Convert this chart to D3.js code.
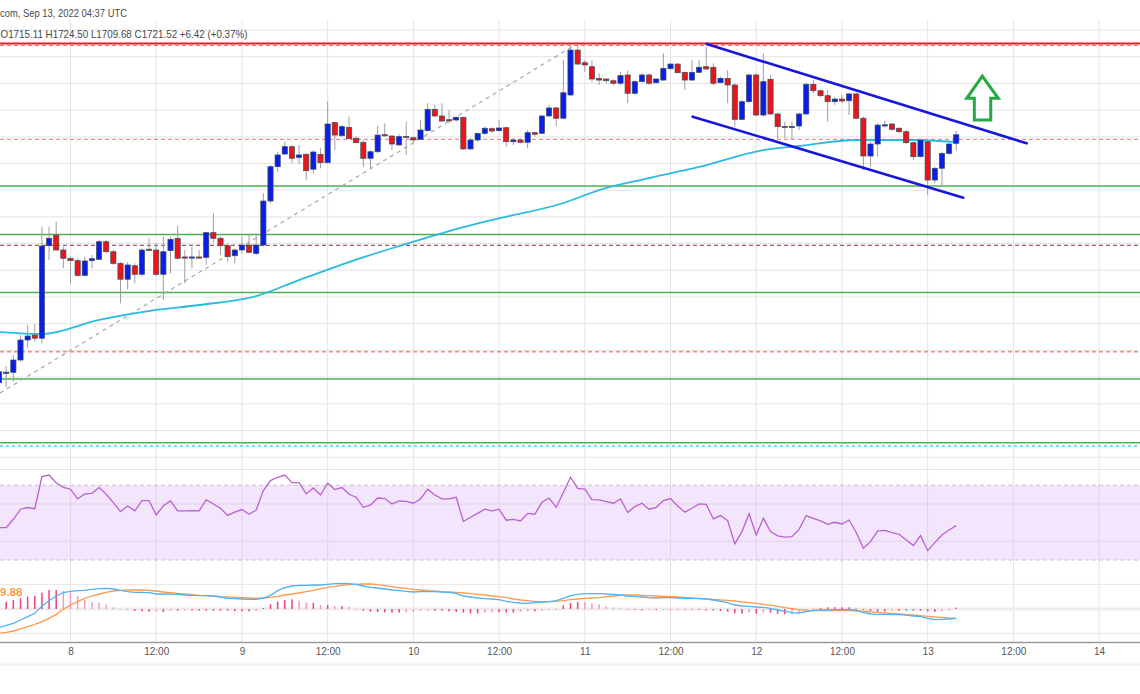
<!DOCTYPE html>
<html><head><meta charset="utf-8">
<script src="https://cdn.jsdelivr.net/npm/d3@7"></script>
<style>body{margin:0;background:#fff;overflow:hidden}svg{display:block}</style>
</head><body><svg id="c" width="1140" height="694"></svg>
<script>
// ---------------- DATA ----------------
const firstCandle = "2022-09-07T14:00:00Z"; // hourly candles
const open  = [1535.8,1543.3,1543.6,1552.8,1567.8,1571.5,1569.1,1638.4,1646.4,1635.2,
1629.0,1627.2,1616.2,1627.2,1628.2,1641.4,1633.9,1625.2,1613.3,1623.4,
1617.0,1635.8,1635.2,1617.0,1634.7,1644.0,1630.0,1629.7,1630.0,1629.7,
1648.2,1644.0,1638.4,1630.9,1635.2,1638.9,1632.7,1638.9,1671.9,1697.6,
1707.1,1712.6,1704.6,1706.9,1695.7,1706.9,1700.6,1730.6,1720.8,1727.1,
1718.9,1715.9,1703.9,1708.8,1721.6,1720.6,1713.9,1720.3,1719.3,1718.1,
1724.6,1740.6,1735.6,1732.8,1732.6,1734.6,1710.9,1717.6,1722.6,1726.1,
1724.6,1726.8,1716.3,1717.6,1715.9,1723.1,1722.6,1735.6,1741.6,1733.9,
1751.3,1785.0,1775.5,1772.5,1763.8,1763.3,1762.0,1760.1,1766.3,1752.6,
1761.3,1766.3,1760.5,1762.5,1771.0,1774.5,1768.3,1762.5,1768.3,1772.5,
1772.1,1760.5,1763.8,1758.8,1733.1,1746.3,1766.3,1736.3,1763.1,1737.1,
1727.8,1727.1,1728.1,1737.1,1759.3,1754.5,1750.8,1746.3,1748.3,1747.0,
1752.1,1733.9,1705.6,1714.6,1728.6,1729.6,1726.4,1723.8,1715.6,1705.1,
1716.3,1687.6,1696.4,1707.6,1715.11];
const high  = [1548.3,1548.3,1556.5,1571.5,1579.0,1579.8,1652.7,1652.7,1656.4,1637.7,
1630.2,1629.0,1630.2,1631.5,1642.7,1642.7,1635.2,1626.4,1626.4,1625.2,
1636.5,1644.0,1640.2,1645.2,1645.2,1653.2,1635.2,1637.7,1635.2,1648.9,
1663.1,1645.2,1640.2,1636.5,1645.2,1646.4,1646.4,1677.7,1698.9,1708.8,
1716.3,1713.9,1713.9,1707.6,1710.1,1711.4,1746.3,1731.3,1728.8,1735.1,
1720.1,1717.6,1710.1,1728.1,1730.1,1721.3,1721.9,1731.3,1720.1,1732.6,
1745.1,1743.8,1745.1,1740.1,1735.6,1735.1,1718.9,1723.1,1727.6,1727.1,
1732.6,1727.6,1718.9,1718.9,1725.1,1723.8,1736.3,1743.8,1742.6,1777.5,
1788.8,1788.8,1777.5,1777.5,1767.6,1763.8,1763.1,1768.8,1769.5,1762.5,
1767.6,1767.6,1763.8,1782.5,1775.5,1775.1,1768.8,1777.5,1777.5,1787.5,
1775.1,1765.0,1770.0,1760.1,1747.6,1767.6,1767.6,1782.5,1766.3,1738.1,
1731.3,1731.3,1738.1,1760.5,1762.5,1755.6,1755.1,1749.6,1751.3,1753.0,
1753.0,1735.1,1716.3,1730.1,1732.1,1730.1,1727.1,1725.1,1716.3,1718.1,
1717.6,1697.6,1708.8,1715.6,1724.5];
const low   = [1532.6,1532.6,1536.5,1551.5,1562.0,1566.5,1565.3,1627.7,1635.0,1621.5,
1610.3,1615.2,1615.5,1621.5,1627.7,1632.7,1624.0,1595.3,1605.8,1610.3,
1615.2,1635.0,1615.7,1597.7,1617.7,1628.2,1610.3,1621.5,1629.0,1624.0,
1640.7,1631.5,1626.4,1625.2,1632.7,1632.7,1631.5,1637.7,1670.2,1693.9,
1706.4,1700.1,1699.6,1687.6,1692.7,1696.4,1700.1,1710.1,1720.1,1718.1,
1715.1,1697.6,1696.4,1707.6,1720.1,1710.1,1713.1,1706.4,1716.3,1717.6,
1723.8,1734.6,1731.3,1730.1,1731.3,1710.1,1710.1,1716.3,1721.3,1723.1,
1723.8,1712.6,1713.9,1715.1,1711.4,1720.1,1722.1,1734.6,1728.1,1733.1,
1750.5,1773.8,1768.8,1761.3,1758.8,1760.1,1758.8,1758.8,1745.1,1751.3,
1760.5,1758.8,1759.6,1762.0,1770.0,1767.6,1755.1,1762.0,1767.6,1770.0,
1758.8,1760.1,1745.1,1727.6,1732.6,1745.1,1735.6,1735.1,1736.3,1718.9,
1718.9,1717.6,1725.1,1736.3,1752.6,1749.6,1731.3,1743.8,1745.1,1736.3,
1733.1,1695.1,1697.6,1705.1,1727.1,1724.6,1722.6,1714.6,1702.6,1704.6,
1676.4,1685.2,1682.6,1706.4,1709.68];
const close = [1544.0,1543.7,1552.8,1567.8,1570.8,1569.1,1638.2,1644.0,1635.2,1629.0,
1627.2,1616.2,1627.0,1628.7,1641.4,1633.9,1625.2,1613.3,1624.0,1617.0,
1635.2,1635.6,1617.0,1633.9,1643.2,1629.0,1629.7,1630.0,1629.6,1648.2,
1644.0,1638.4,1630.2,1635.2,1638.9,1633.5,1638.9,1671.9,1697.6,1706.4,
1712.6,1703.9,1706.4,1694.6,1708.6,1700.6,1729.6,1721.3,1727.6,1718.6,
1715.6,1703.9,1708.8,1721.3,1721.2,1714.6,1720.1,1719.9,1717.6,1725.1,
1740.6,1735.6,1731.8,1732.3,1734.6,1710.9,1717.6,1722.6,1726.4,1724.3,
1726.6,1716.3,1717.6,1715.9,1723.1,1721.9,1735.6,1741.6,1733.9,1753.0,
1785.0,1774.5,1773.8,1763.3,1762.5,1762.0,1760.1,1765.8,1752.6,1761.3,
1766.3,1760.1,1763.3,1771.3,1774.5,1768.0,1762.5,1768.3,1772.1,1770.8,
1760.1,1763.8,1758.8,1733.1,1746.3,1766.3,1736.3,1761.3,1737.1,1727.6,
1727.4,1727.8,1737.1,1759.3,1754.5,1750.8,1746.3,1748.3,1746.8,1752.1,
1733.9,1705.6,1714.6,1728.8,1729.0,1725.6,1723.8,1715.6,1705.1,1717.6,
1687.6,1696.4,1707.6,1714.6,1721.52];

// moving average (read at sample hours after Sep 8 00:00)
const smaHours  = [-10,-4,4,12,18,26,32,39,46,53,59,69,74,81,88,97,102,110,118,124];
const smaValues = [1573.8,1572.3,1582.8,1590.3,1594.0,1600.7,1612.7,1626.2,1638.2,1649.4,
1657.7,1670.4,1680.1,1689.1,1697.4,1710.1,1713.1,1717.6,1717.6,1716.1];

const rsi = [47.3,47.3,51.8,57.2,58.1,57.5,74.7,75.5,71.4,68.9,
67.9,62.7,65.4,65.7,68.8,65.2,60.7,55.9,58.9,56.3,
61.8,61.8,54.1,59.1,61.6,56.3,56.3,56.4,56.3,62.2,
60.0,57.7,53.9,55.6,57.0,54.5,56.8,67.2,72.5,74.3,
75.5,71.4,71.4,65.4,68.6,64.8,71.1,67.7,68.8,65.2,
63.6,58.2,59.5,63.2,62.9,60.0,61.6,61.4,60.4,62.7,
67.9,64.8,62.7,62.7,63.6,50.6,52.9,55.0,57.2,56.3,
57.2,51.3,51.8,50.9,55.0,54.5,60.9,63.2,58.2,66.1,
74.3,68.4,67.9,62.3,62.2,61.3,60.4,62.7,55.4,58.6,
60.4,57.2,58.2,61.8,62.9,58.9,55.6,57.7,60.0,59.8,
52.0,53.8,51.1,38.6,45.2,54.7,43.4,52.3,45.2,42.9,
42.3,42.5,46.4,53.8,52.3,50.9,49.1,50.2,49.3,51.4,
44.7,36.3,39.8,45.6,45.9,44.7,43.8,40.7,37.7,43.1,
35.0,39.3,43.4,46.1,48.4];

const macd = [-55,-49,-43,-33,-23,-13,9,25,39,49,
53,55,56,59,61,62,60,56,52,50,
50,49,45,45,45,44,42,41,40,40,
39,36,32,31,30,29,29,33,41,55,
64,69,71,71,72,72,74,76,77,76,
74,69,65,63,60,57,55,53,51,52,
53,52,51,50,47,39,36,33,31,30,
28,23,20,18,17,19,20,22,25,32,
40,44,46,46,46,45,44,42,39,37,
36,34,33,34,34,33,32,32,31,30,
27,23,19,12,9,8,6,5,2,-3,
-7,-11,-12,-8,-4,-3,-3,-2,-2,-2,
-3,-11,-15,-16,-16,-17,-17,-18,-21,-23,
-28,-32,-31,-30,-28];
const signal = [-73,-70,-66,-60,-53,-46,-38,-28,-16,-1,
12,22,32,39,45,50,54,56,57,57,
57,56,54,51,49,47,45,43,41,40,
39,37,36,35,34,33,32,33,35,38,
42,45,48,52,56,61,65,68,71,73,
74,75,75,73,70,67,64,62,59,57,
55,54,52,51,50,48,46,44,42,39,
37,34,30,27,25,23,22,22,23,25,
28,30,32,33,34,37,39,41,42,42,
41,40,39,38,37,36,35,33,32,30,
29,27,26,24,21,19,17,14,11,8,
4,1,-2,-4,-5,-5,-5,-5,-5,-5,
-6,-7,-9,-10,-12,-13,-15,-17,-18,-20,
-22,-24,-25,-27,-28];
const hist = [20,22,27,32,37,39,49,57,57,54,
49,39,27,21,19,14,5,0.5,-2,-6,
-7,-8,-7,-9,-5,-5,-4,-4,-5,-5,
-5,-5,-5,-7,-7,-7,-5,3,14,22,
27,29,25,19,19,12,12,9,9,7,
0.5,-5,-8,-9,-10,-11,-11,-10,-9,-6,
-5,-5,-5,-7,-9,-11,-13,-13,-11,-10,
-10,-11,-11,-9,-7,-7,-5,-3,0.5,11,
18,21,20,17,14,8,5,2,-2,-3,
-4,-3,-3,-2,-2,-2,-2,-2,-3,-4,
-4,-6,-8,-13,-14,-11,-14,-11,-11,-14,
-16,-15,-11,-3,0.5,3,5,5,5,5,
3,-3,-6,-8,-8,-5,-5,-5,-5,-5,
-7,-9,-7,-4,4];

const xTickLabels = ["8","12:00","9","12:00","10","12:00","11","12:00","12","12:00","13","12:00","14"];
const greenLevels = [1683.1, 1646.8, 1603.4, 1538.6, 1490.8];
const redDashedLevels = [1718.0, 1559.0];
const brownDashedLevel = 1638.6;
const resistanceLevel = 1789.9;
const blueDottedLevel = 1488.4;
// annotations: [hoursAfterSep8, price]
const channelUpper = [[89.07,1789.5],[133.86,1715.1]];
const channelLower = [[87.1,1735.1],[124.99,1674.4]];
const trendLine = [[-9.87,1528.1],[70.63,1788.8]];
const arrowShape = [[127.65,1765.5],[129.89,1748.8],[128.83,1748.8],[128.83,1732.6],[126.53,1732.6],[126.53,1748.8],[125.47,1748.8]];
const headerLine1 = "com, Sep 13, 2022 04:37 UTC";
const headerLine2 = "O1715.11  H1724.50  L1709.68  C1721.52  +6.42 (+0.37%)";
const macdLabel = "9.88";

// ---------------- CHECK ----------------
[open,high,low,close,rsi,macd,signal,hist].forEach((a,i)=>{ if(a.length!==135) throw new Error("len "+i+" "+a.length); });

// ---------------- SCALES ----------------
const svg = d3.select("#c");
const W = 1140;
const HOUR = 3600e3;
const t0 = new Date(firstCandle).getTime();
const sep8 = Date.UTC(2022,8,8);
const x = d3.scaleUtc().domain([new Date(sep8), new Date(Date.UTC(2022,8,14))]).range([70.5, 1099.1]);
const xi = i => x(new Date(t0 + i*HOUR));
const xh = h => x(new Date(sep8 + h*HOUR));
const y = d3.scaleLinear().domain([1720, 1780]).range([136.8, 56.7]);
const yR = d3.scaleLinear().domain([30, 70]).range([560, 485.3]);
const yM = d3.scaleLinear().domain([-60, 60]).range([629, 589]);

// ---------------- GRID ----------------
const grid = svg.append("g");
const vTicks = d3.range(0, 13).map(k => new Date(sep8 + k*12*HOUR));
grid.selectAll(".vg").data(vTicks).join("line")
  .attr("x1", d=>x(d)).attr("x2", d=>x(d)).attr("y1", 20).attr("y2", 642)
  .attr("stroke", "#e4e4e4").attr("stroke-width", 1);
const priceGrid = d3.range(1480, 1801, 20).filter(p => y(p) > 20 && y(p) < 466);
grid.selectAll(".hg").data(priceGrid).join("line")
  .attr("x1", 0).attr("x2", W).attr("y1", d=>y(d)).attr("y2", d=>y(d))
  .attr("stroke", "#e4e4e4").attr("stroke-width", 1);
grid.append("line").attr("x1",0).attr("x2",W).attr("y1",469.5).attr("y2",469.5).attr("stroke","#e4e4e4");

// ---------------- RSI PANEL ----------------
const rsiG = svg.append("g");
rsiG.append("rect").attr("x",0).attr("width",W).attr("y",yR(70)).attr("height",yR(30)-yR(70)).attr("fill","#f3e5fc");
[60,40].forEach(v=> rsiG.append("line").attr("x1",0).attr("x2",W).attr("y1",yR(v)).attr("y2",yR(v)).attr("stroke","#e0d4e8"));
vTicks.forEach(d=> rsiG.append("line").attr("x1",x(d)).attr("x2",x(d)).attr("y1",yR(70)).attr("y2",yR(30)).attr("stroke","#e2d2ea"));
[70,30].forEach(v=> rsiG.append("line").attr("x1",0).attr("x2",W).attr("y1",yR(v)).attr("y2",yR(v))
  .attr("stroke","#c8bfd0").attr("stroke-dasharray","4,3"));
rsiG.append("path").datum(rsi).attr("fill","none").attr("stroke","#b962cf").attr("stroke-width",1.3)
  .attr("d", d3.line().x((d,i)=>xi(i)).y(d=>yR(d)));

// ---------------- MACD PANEL ----------------
const mG = svg.append("g");
[584.3, 633.3].forEach(v=> mG.append("line").attr("x1",0).attr("x2",W).attr("y1",v).attr("y2",v).attr("stroke","#e4e4e4"));
mG.append("line").attr("x1",0).attr("x2",W).attr("y1",yM(0)).attr("y2",yM(0)).attr("stroke","#ececec").attr("stroke-width",3);
mG.selectAll(".hb").data(hist).join("rect")
  .attr("x",(d,i)=>xi(i)-0.75).attr("width",1.5)
  .attr("y",d=>Math.min(yM(d),yM(0))).attr("height",d=>Math.max(0.6,Math.abs(yM(d)-yM(0))))
  .attr("fill",(d,i)=>{ const prev = i>0?hist[i-1]:d; return (d>=0 ? (d>=prev ? "#f0407f":"#f59abb") : (d<=prev ? "#f0407f":"#f59abb")); });
mG.append("path").datum(signal).attr("fill","none").attr("stroke","#ff9a4d").attr("stroke-width",1.3)
  .attr("d", d3.line().x((d,i)=>xi(i)).y(d=>yM(d)));
mG.append("path").datum(macd).attr("fill","none").attr("stroke","#4fb3f6").attr("stroke-width",1.3)
  .attr("d", d3.line().x((d,i)=>xi(i)).y(d=>yM(d)));
mG.append("text").attr("x",0).attr("y",596).text(macdLabel)
  .attr("fill","#ff9a4d").attr("font-family","Liberation Sans, Arial, sans-serif").attr("font-size",11.5).attr("font-weight","bold");

// ---------------- LEVELS ----------------
const lv = svg.append("g");
lv.selectAll(".gl").data(greenLevels).join("line")
  .attr("x1",0).attr("x2",W).attr("y1",d=>y(d)).attr("y2",d=>y(d)).attr("stroke","#4cb050").attr("stroke-width",1.6);
lv.selectAll(".rl").data(redDashedLevels).join("line")
  .attr("x1",0).attr("x2",W).attr("y1",d=>y(d)).attr("y2",d=>y(d)).attr("stroke","#f28b8b").attr("stroke-width",1.3).attr("stroke-dasharray","4,3");
lv.append("line").attr("x1",0).attr("x2",W).attr("y1",y(brownDashedLevel)).attr("y2",y(brownDashedLevel))
  .attr("stroke","#9c5c5c").attr("stroke-width",1.3).attr("stroke-dasharray","4,3");
lv.append("line").attr("x1",0).attr("x2",W).attr("y1",y(blueDottedLevel)).attr("y2",y(blueDottedLevel))
  .attr("stroke","#6ec1f0").attr("stroke-width",1.3).attr("stroke-dasharray","3,3");
lv.append("line").attr("x1",0).attr("x2",W).attr("y1",y(resistanceLevel)+2).attr("y2",y(resistanceLevel)+2)
  .attr("stroke","#e57373").attr("stroke-width",1).attr("stroke-dasharray","4,3");
lv.append("line").attr("x1",0).attr("x2",W).attr("y1",y(resistanceLevel)).attr("y2",y(resistanceLevel))
  .attr("stroke","#f01818").attr("stroke-width",1.8);

// trend line (dashed gray)
svg.append("line").attr("x1",xh(trendLine[0][0])).attr("y1",y(trendLine[0][1]))
  .attr("x2",xh(trendLine[1][0])).attr("y2",y(trendLine[1][1]))
  .attr("stroke","#a8a8a8").attr("stroke-width",1.2).attr("stroke-dasharray","4,4");

// moving average
svg.append("path").datum(smaHours.map((h,i)=>[h,smaValues[i]])).attr("fill","none")
  .attr("stroke","#2bbbe0").attr("stroke-width",1.8)
  .attr("d", d3.line().curve(d3.curveMonotoneX).x(d=>xh(d[0])).y(d=>y(d[1])));

// ---------------- CANDLES ----------------
const cg = svg.append("g");
const idx = d3.range(open.length);
cg.selectAll(".wick").data(idx).join("line")
  .attr("x1",i=>xi(i)).attr("x2",i=>xi(i)).attr("y1",i=>y(high[i])).attr("y2",i=>y(low[i]))
  .attr("stroke","#9e9e9e").attr("stroke-width",1);
cg.selectAll(".body").data(idx).join("rect")
  .attr("x",i=>xi(i)-2.6).attr("width",5.2)
  .attr("y",i=>y(Math.max(open[i],close[i])))
  .attr("height",i=>Math.max(1.2, Math.abs(y(open[i])-y(close[i]))))
  .attr("fill",i=> close[i]>=open[i] ? "#0a1ee6" : "#e8161b")
  .attr("stroke","#3d4f5c").attr("stroke-width",0.7);

// channel
[channelUpper, channelLower].forEach(c=> svg.append("line")
  .attr("x1",xh(c[0][0])).attr("y1",y(c[0][1])).attr("x2",xh(c[1][0])).attr("y2",y(c[1][1]))
  .attr("stroke","#1717dc").attr("stroke-width",2.6).attr("stroke-linecap","round"));

// arrow
svg.append("path").datum(arrowShape).attr("fill","none").attr("stroke","#26a843").attr("stroke-width",3)
  .attr("stroke-linejoin","miter")
  .attr("d", d3.line().x(d=>xh(d[0])).y(d=>y(d[1])).curve(d3.curveLinearClosed));

// ---------------- AXIS ----------------
svg.append("line").attr("x1",0).attr("x2",W).attr("y1",642.5).attr("y2",642.5).attr("stroke","#9a9a9a").attr("stroke-width",1.6);
svg.append("line").attr("x1",0).attr("x2",W).attr("y1",664.5).attr("y2",664.5).attr("stroke","#f0f0f0").attr("stroke-width",2);
const axis = d3.axisBottom(x).tickValues(vTicks).tickFormat((d,i)=>xTickLabels[i]).tickSize(0).tickPadding(0);
const ag = svg.append("g").attr("transform","translate(0,648)").call(axis);
ag.select(".domain").remove();
ag.selectAll("text").attr("fill","#555").attr("font-size",10).attr("font-family","Liberation Sans Narrow, Liberation Sans, Arial, sans-serif").attr("dy","0.71em");

// ---------------- HEADER ----------------
svg.append("text").attr("x",0).attr("y",16.5).text(headerLine1)
  .attr("fill","#4a4a4a").attr("font-size",11.5).attr("font-family","Liberation Sans, Arial, sans-serif")
  .attr("textLength",127).attr("lengthAdjust","spacingAndGlyphs");
svg.append("text").attr("x",0.5).attr("y",38).text(headerLine2)
  .attr("fill","#4a4a4a").attr("font-size",11.5).attr("font-family","Liberation Sans, Arial, sans-serif")
  .attr("textLength",247).attr("lengthAdjust","spacingAndGlyphs");
</script></body></html>
